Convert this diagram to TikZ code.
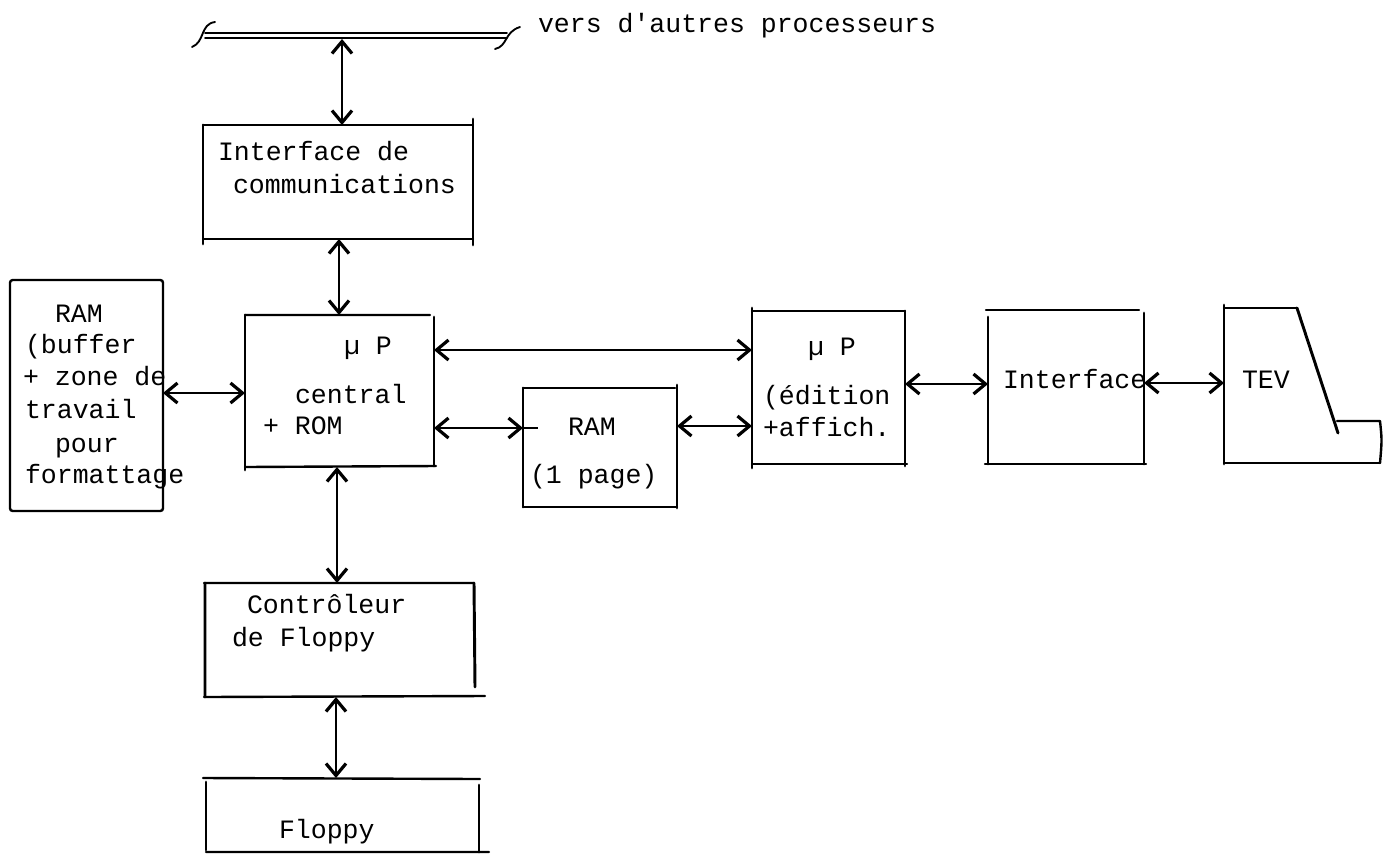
\documentclass[tikz,border=0pt]{standalone}
\usepackage{fontspec}
\setmonofont{Liberation Mono}
\usetikzlibrary{arrows.meta}
\tikzset{
 x=0.75pt,y=-0.75pt,
 blk/.style={inner sep=0pt,outer sep=0pt,rectangle},
 hl/.style={draw=black,line width=1.8pt,line cap=round,line join=round},
 vl/.style={draw=black,line width=2.2pt,line cap=round,line join=round},
 lab/.style={inner sep=0pt,outer sep=0pt,anchor=base west,font=\ttfamily\fontsize{19.9pt}{24pt}\selectfont},
 bi/.style={line width=1.8pt,{Straight Barb[length=9pt,width=15pt,line width=2.4pt]}-{Straight Barb[length=9pt,width=15pt,line width=2.4pt]}},
 wire/.style={line width=1.4pt,line cap=round,line join=round},
}
\newcommand{\boxat}[5]{\node[blk,minimum width=#4*0.75pt-#2*0.75pt,minimum height=#5*0.75pt-#3*0.75pt] (#1) at ({(#2+#4)/2},{(#3+#5)/2}) {};}
\begin{document}
\begin{tikzpicture}
\useasboundingbox (0,0) rectangle (1389,854);
\boxat{comm}{203}{125}{473}{239}
\boxat{cent}{245}{315}{434}{467}
\boxat{ramb}{10}{280}{163}{511}
\boxat{ramp}{523}{388}{677}{507}
\boxat{edit}{752}{311}{905}{464}
\boxat{intf}{988}{310}{1144}{464}
\boxat{ctrl}{205}{583}{474}{697}
\boxat{flop}{206}{778}{479}{852}
\boxat{tev}{1224}{308}{1380}{463}
% comm
\draw[hl] (203,125) -- (473,125) (203,239) -- (473,239);
\draw[vl] (203,125) -- (203,244) (473,119) -- (473,245);
% central
\draw[hl] (245,315) -- (430,315) (245,467) -- (436,466);
\draw[vl] (245,315) -- (245,470) (434,317) -- (434,466);
% ram buffer
\draw[hl,rounded corners=2pt] (10,280) -- (163,280) -- (163,511) -- (10,511) -- cycle;
% ram page
\draw[hl] (523,388) -- (675,388) (523,507) -- (677,507);
\draw[vl] (523,388) -- (523,507) (677,385) -- (677,508);
% edition
\draw[hl] (752,311) -- (905,311) (752,464) -- (907,464);
\draw[vl] (752,308) -- (752,468) (905,311) -- (905,466);
% interface
\draw[hl] (986,310) -- (1139,310) (985,464) -- (1146,464);
\draw[vl] (988,317) -- (988,464) (1144,313) -- (1144,464);
% controleur
\draw[hl] (204,583) -- (474,583) (204,697) -- (485,696);
\draw[vl] (205,583) -- (205,697) (474,583) -- (475,687);
% floppy
\draw[hl] (203,778) -- (480,779) (206,852) -- (489,852);
\draw[vl] (206,782) -- (206,850) (479,785) -- (479,852);
% TEV
\draw[hl] (1224,308) -- (1297,308);
\draw[vl] (1297,308) -- (1338,433);
\draw[vl] (1224,305) -- (1224,464);
\draw[hl] (1224,463) -- (1380,463);
\draw[hl] (1337,421) -- (1380,421) .. controls (1382,440) .. (1380,463);
% bus
\coordinate (bust) at (342,39);
\draw[wire] (205,33) -- (507,33);
\draw[wire] (205,38) -- (507,38);
\draw[wire] (192,47) .. controls (205,42) and (200,24) .. (215,22);
\draw[wire] (495,49) .. controls (508,46) and (504,32) .. (520,27);
% connectors
\draw[bi] (bust) -- (comm.north -| bust);
\draw[bi] (comm.south -| 339,0) -- (cent.north -| 339,0);
\draw[bi] (ramb.east |- 0,393) -- (cent.west |- 0,393);
\draw[bi] (cent.east |- 0,350) -- (edit.west |- 0,350);
\draw[bi] (cent.east |- 0,428) -- (ramp.west |- 0,428);
\draw[line width=1.5pt] (ramp.west |- 0,428) -- ++(15,0);
\draw[bi] (ramp.east |- 0,426) -- (edit.west |- 0,426);
\draw[bi] (edit.east |- 0,384) -- (intf.west |- 0,384);
\draw[bi] (intf.east |- 0,383) -- (tev.west |- 0,383);
\draw[bi] (cent.south -| 337,0) -- (ctrl.north -| 337,0);
\draw[bi] (ctrl.south -| 336,0) -- (flop.north -| 336,0);
% labels
\node[lab] (t0) at (538,32) {vers d'autres processeurs};
\node[lab] (t1) at (218,160) {Interface de};
\node[lab] (t2) at (233,193) {communications};
\node[lab] (t3) at (55,322) {RAM};
\node[lab] (t4) at (25,353) {(buffer};
\node[lab] (t5) at (23,385) {+ zone de};
\node[lab] (t6) at (25,418) {travail};
\node[lab] (t7) at (55,452) {pour};
\node[lab] (t8) at (25,483) {formattage};
\node[lab] (t9) at (344,354) {µ P};
\node[lab] (t10) at (295,403) {central};
\node[lab] (t11) at (263,434) {+ ROM};
\node[lab] (t12) at (568,435) {RAM};
\node[lab] (t13) at (530,483) {(1 page)};
\node[lab] (t14) at (808,355) {µ P};
\node[lab] (t15) at (763,404) {(édition};
\node[lab] (t16) at (763,436) {+affich.};
\node[lab] (t17) at (1003,388) {Interface};
\node[lab] (t18) at (1242,388) {TEV};
\node[lab] (t19) at (247,613) {Contrôleur};
\node[lab] (t20) at (232,646) {de Floppy};
\node[lab] (t21) at (279,838) {Floppy};
\end{tikzpicture}
\end{document}
